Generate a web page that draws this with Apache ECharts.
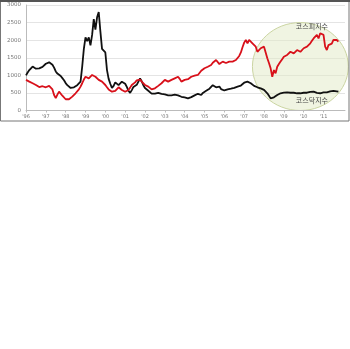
<!DOCTYPE html>
<html><head><meta charset="utf-8">
<script src="https://cdn.jsdelivr.net/npm/echarts@6/dist/echarts.min.js"></script>
<style>html,body{margin:0;padding:0;background:#fff}#c{width:350px;height:349px}</style>
</head><body><div id="c"></div>
<script>
// Monthly values, July 1996 .. April 2012
const kosdaq = [
1000,1080,1150,1200,1250,1220,1190,1210,1200,1180,1240,1280,
1330,1350,1370,1360,1300,1220,1110,1050,1010,980,920,860,
780,720,670,640,630,660,700,720,750,820,1250,1750,
2080,1970,2080,1850,2150,2600,2300,2650,2800,2250,1750,1700,
1650,1150,900,760,640,700,800,780,720,740,820,860,
760,670,560,500,580,670,700,730,820,910,830,720,
640,590,560,530,480,440,480,510,500,490,470,480,
460,440,430,420,430,440,450,440,430,410,390,380,
370,350,345,360,380,400,430,460,475,445,440,500,
540,560,590,620,670,720,700,660,690,680,610,565,
570,590,600,605,620,630,645,660,680,700,710,760,
790,810,820,800,775,740,700,680,660,640,630,610,
585,540,490,420,345,360,375,410,440,470,490,500,
510,515,515,510,505,500,505,495,490,485,490,500,
505,500,505,520,530,525,535,520,500,495,490,505,
515,510,515,530,545,550,560,550,545,535
];
const kospi = [
870,850,820,800,775,750,725,700,665,660,690,700,
660,670,700,680,600,440,350,450,535,510,420,370,
320,310,320,340,395,440,490,540,600,680,775,880,
960,940,915,960,1010,990,960,920,870,850,820,780,
725,660,600,560,535,545,560,600,660,640,585,560,
535,540,585,650,725,780,800,860,915,880,820,770,
725,700,680,640,600,610,630,665,700,740,775,820,
870,845,820,850,870,890,915,940,960,900,820,850,
870,870,890,915,960,1010,990,960,1010,1060,1130,1170,
1200,1220,1245,1270,1295,1360,1400,1435,1400,1320,1360,1390,
1370,1350,1360,1390,1380,1390,1410,1435,1480,1550,1650,1800,
1930,2005,1910,2005,2050,1910,1960,1815,1670,1720,1770,1790,
1815,1650,1485,1350,1200,960,1150,1060,1245,1320,1390,1460,
1530,1560,1580,1620,1670,1640,1625,1680,1720,1700,1670,1720,
1770,1790,1815,1860,1910,1980,2050,2100,2150,2050,2195,2170,
2150,1815,1720,1860,1815,1900,2005,2030,2005,1960
];
const yearLabels = ["'96","'97","'98","'99","'00","'01","'02","'03","'04","'05","'06","'07","'08","'09","'10","'11"];
const seriesNames = ["코스피지수","코스닥지수"];

// category axis: one slot per month from Jul 1996 (extra empty slots at the right end)
const months = [];
for (let i = 0; i < 194; i++) {
  const y = 1996 + Math.floor((6 + i) / 12), m = (6 + i) % 12 + 1;
  months.push(y + '-' + (m < 10 ? '0' : '') + m);
}

const chart = echarts.init(document.getElementById('c'), null, {renderer: 'canvas'});
const font = 'DejaVu Sans';
chart.setOption({
  animation: false,
  backgroundColor: '#fff',
  grid: {left: 26, right: 5, top: 5, bottom: 238.5},
  xAxis: {
    type: 'category', data: months, boundaryGap: false,
    axisLine: {lineStyle: {color: '#bbb', width: 1}},
    axisTick: {show: true, interval: (i) => i % 12 === 0 && i / 12 < yearLabels.length, length: 2, lineStyle: {color: '#bbb'}},
    axisLabel: {
      interval: (i) => i % 12 === 0 && i / 12 < yearLabels.length,
      formatter: (v, i) => yearLabels[i / 12] || '',
      fontSize: 5, color: '#777', fontFamily: font, margin: 4
    },
    splitLine: {show: false}
  },
  yAxis: {
    type: 'value', min: 0, max: 3000, interval: 500,
    axisLine: {show: true, lineStyle: {color: '#bbb'}},
    axisTick: {show: false},
    axisLabel: {fontSize: 5.5, color: '#777', fontFamily: font, margin: 5, formatter: (v) => String(v)},
    splitLine: {lineStyle: {color: '#e4e4e4', width: 1}}
  },
  series: [
    {name: seriesNames[1], type: 'line', data: kosdaq, showSymbol: false, symbol: 'none', z: 3,
     lineStyle: {color: '#111', width: 1.8}},
    {name: seriesNames[0], type: 'line', data: kospi, showSymbol: false, symbol: 'none', z: 4,
     lineStyle: {color: '#d8101a', width: 1.8}}
  ]
});

// annotation ellipse and labels, placed through the chart's own scales
const c = chart.convertToPixel({gridIndex: 0}, [166, 1250]);
const cr = chart.convertToPixel({gridIndex: 0}, [195, 2500]);
const pHi = chart.convertToPixel({gridIndex: 0}, [173, 2380]);
const pLo = chart.convertToPixel({gridIndex: 0}, [173, 290]);
chart.setOption({
  graphic: [
    {type: 'ellipse', z: 0, zlevel: 0, silent: true,
     shape: {cx: c[0], cy: c[1], rx: cr[0] - c[0], ry: c[1] - cr[1]},
     style: {fill: 'rgba(226,234,198,0.5)', stroke: '#cbd5a2', lineWidth: 1}},
    {type: 'text', x: pHi[0], y: pHi[1], z: 10,
     style: {text: seriesNames[0], fontSize: 7, fill: '#444', fontFamily: 'Noto Sans CJK KR', align: 'center', verticalAlign: 'middle'}},
    {type: 'text', x: pLo[0], y: pLo[1], z: 10,
     style: {text: seriesNames[1], fontSize: 7, fill: '#444', fontFamily: 'Noto Sans CJK KR', align: 'center', verticalAlign: 'middle'}},
    {type: 'rect', z: 20, silent: true, shape: {x: 0.5, y: 0.5, width: 348.5, height: 120.5},
     style: {fill: 'none', stroke: '#777', lineWidth: 1}},
    {type: 'line', z: 21, silent: true, shape: {x1: 0, y1: 1, x2: 350, y2: 1},
     style: {stroke: '#555', lineWidth: 2}}
  ]
});
</script></body></html>
